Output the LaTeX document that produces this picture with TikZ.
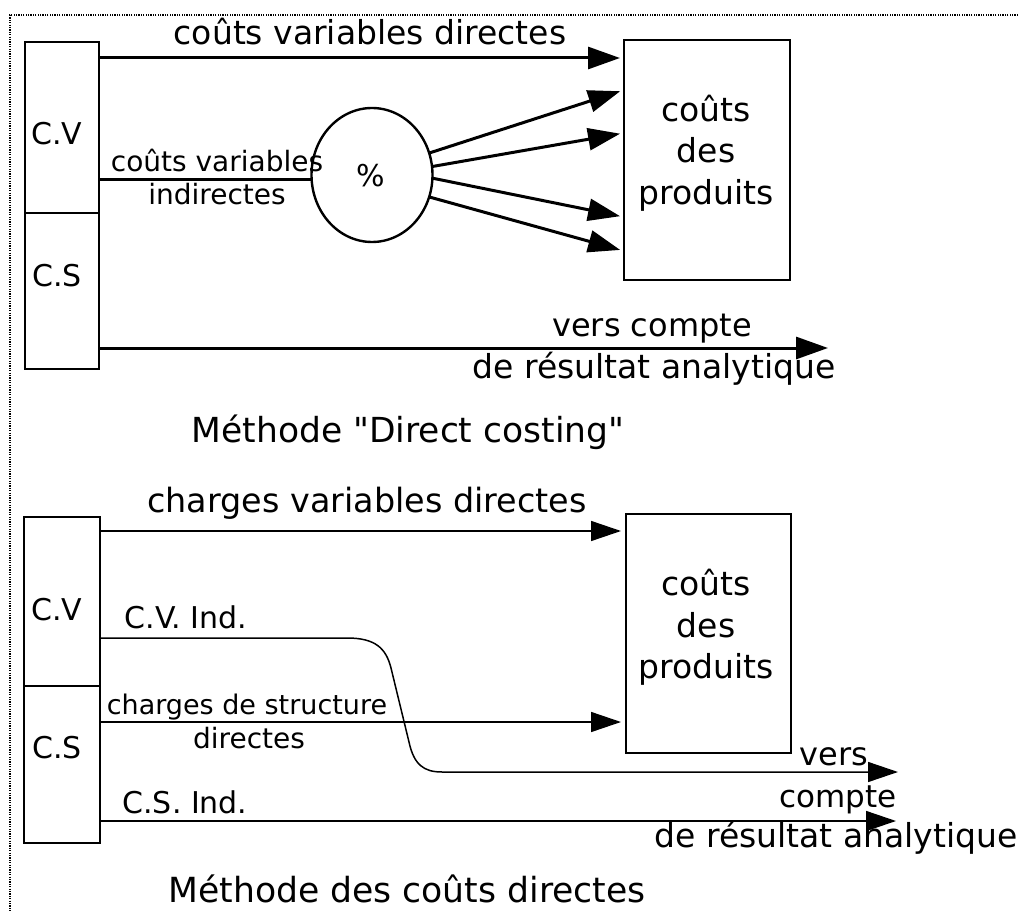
\documentclass[tikz,border=0pt]{standalone}
\usepackage{fontspec}
\setmainfont{DejaVu Sans}[Ligatures=TeXOff]
\usetikzlibrary{arrows.meta,shapes.geometric}
\newcommand{\fs}[1]{\fontsize{#1}{#1}\selectfont}
\tikzset{
  txt/.style={anchor=base, inner sep=0pt, outer sep=0pt},
  boxA/.style={draw, line width=2.4pt, inner sep=0pt, outer sep=0pt, rectangle},
  boxB/.style={draw, line width=1.3pt, inner sep=0pt, outer sep=0pt, rectangle},
  arrT/.style={line width=3pt, -{Triangle[length=32pt,width=22pt]}},
  arrB/.style={line width=1.5pt, -{Triangle[length=30pt,width=20pt]}},
  lineT/.style={line width=2.8pt},
  frame/.style={line width=2pt, dash pattern=on 1.2pt off 1.2pt}
}
\begin{document}
\begin{tikzpicture}[x=1pt,y=-1pt]
\useasboundingbox (0,0) rectangle (1018,912);
% frame
\draw[frame] (1018,15) -- (10,15) -- (10,912);

% ===== top section =====
\node[boxA, minimum width=74pt, minimum height=171pt] (cvA) at (62,127.5) {};
\node[boxA, minimum width=74pt, minimum height=156pt] (csA) at (62,291) {};
\node[boxA, minimum width=166pt, minimum height=240pt] (prodA) at (707,160) {};
\node[ellipse, draw, line width=2.4pt, minimum width=121pt, minimum height=134pt, inner sep=0pt, outer sep=0pt] (pct) at (372,175) {};
\coordinate (outA) at (828,348);

\node[txt, font=\fs{33}] (t1) at (370,45) {coûts variables directes};
\node[txt, font=\fs{30}] (lCVa) at (57,145) {C.V};
\node[txt, font=\fs{30}] (lCSa) at (57,287) {C.S};
\node[txt, font=\fs{28}] (t2) at (217,172) {coûts variables};
\node[txt, font=\fs{28}] (t3) at (217,205) {indirectes};
\node[txt, font=\fs{30}] (pctl) at (371,187) {\%};
\node[txt, font=\fs{33}] (pA1) at (706,122) {coûts};
\node[txt, font=\fs{33}] (pA2) at (706,163) {des};
\node[txt, font=\fs{33}] (pA3) at (706,205) {produits};
\node[txt, font=\fs{32}] (v1) at (652,337) {vers compte};
\node[txt, font=\fs{33}] (r1) at (654,378) {de résultat analytique};
\node[txt, font=\fs{34.5}] (title1) at (408,442) {Méthode "Direct costing"};

\draw[arrT, shorten >=4pt] ([yshift=-16pt]cvA.north east) -- ([yshift=-18pt]prodA.north west);
\draw[lineT] (cvA.east |- pct.184) -- (pct.184);
\draw[arrT, shorten >=4pt] (pct.21) -- ([yshift=70pt]prodA.west);
\draw[arrT, shorten >=4pt] (pct.8) -- ([yshift=27pt]prodA.west);
\draw[arrT, shorten >=4pt] (pct.-3) -- ([yshift=-57pt]prodA.west);
\draw[arrT, shorten >=4pt] (pct.-21) -- ([yshift=-91pt]prodA.west);
\draw[arrT] ([yshift=21pt]csA.south east) -- (outA);

% ===== bottom section =====
\node[boxB, minimum width=76pt, minimum height=169pt] (cvB) at (62,601.5) {};
\node[boxB, minimum width=76pt, minimum height=157pt] (csB) at (62,764.5) {};
\node[boxB, minimum width=165pt, minimum height=239pt] (prodB) at (708.5,633.5) {};
\coordinate (outB1) at (898,772);
\coordinate (outB2) at (896,821);

\node[txt, font=\fs{33.4}] (t4) at (367,512) {charges variables directes};
\node[txt, font=\fs{30}] (lCVb) at (57,620) {C.V};
\node[txt, font=\fs{30}] (lCSb) at (57,758) {C.S};
\node[txt, font=\fs{30}] (t5) at (186,628) {C.V. Ind.};
\node[txt, font=\fs{27}] (t6) at (247,714) {charges de structure};
\node[txt, font=\fs{28}] (t7) at (249,748) {directes};
\node[txt, font=\fs{30}] (t8) at (185,813) {C.S. Ind.};
\node[txt, font=\fs{33}] (pB1) at (706,595) {coûts};
\node[txt, font=\fs{33}] (pB2) at (706,637) {des};
\node[txt, font=\fs{33}] (pB3) at (706,678) {produits};
\node[txt, font=\fs{32}] (v2) at (834,765) {vers};
\node[txt, font=\fs{31}] (c2) at (838,807) {compte};
\node[txt, font=\fs{33}] (r2) at (836,847) {de résultat analytique};
\node[txt, font=\fs{34.6}] (title2) at (407,902) {Méthode des coûts directes};

\draw[arrB, shorten >=5pt] ([yshift=-14pt]cvB.north east) -- ([yshift=-17pt]prodB.north west);
\draw[arrB] ([yshift=-121pt]cvB.north east) -- ++(247,0)
   .. controls +(28,0) and +(-5,-20) .. ++(44,30)
   -- ++(18,74)
   .. controls +(5,23) and +(-18,0) .. ++(33,30)
   -- (outB1);
\draw[arrB, shorten >=5pt] ([yshift=-36pt]csB.north east) -- ([yshift=-88.5pt]prodB.west);
\draw[arrB] ([yshift=-135pt]csB.north east) -- (outB2);
\end{tikzpicture}
\end{document}
